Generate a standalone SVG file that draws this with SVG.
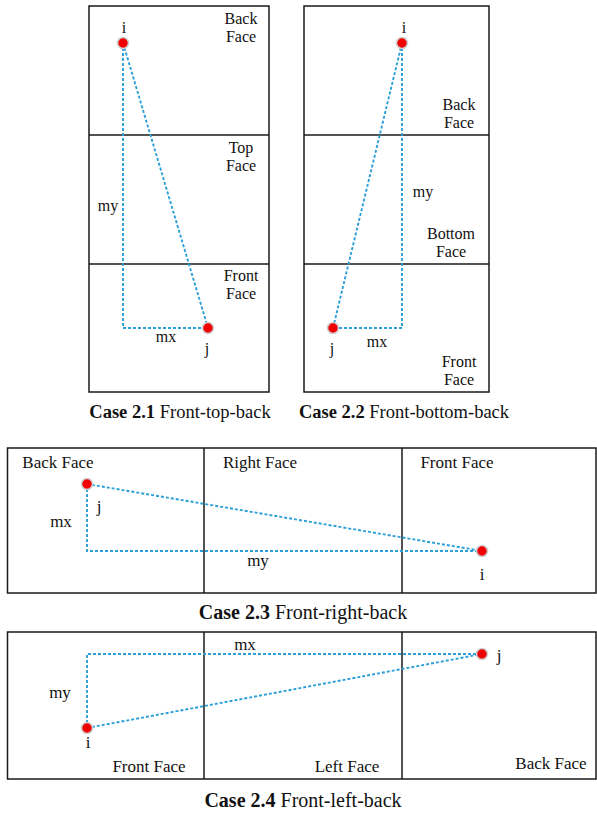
<svg xmlns="http://www.w3.org/2000/svg" width="597" height="814" viewBox="0 0 597 814">
<style>
.box{fill:none;stroke:#1a1a1a;stroke-width:1.5}
.div{stroke:#1a1a1a;stroke-width:1.5}
.dash{fill:none;stroke:#2a9fd8;stroke-width:1.9;stroke-dasharray:3 2}
.pt{fill:#f00000;stroke:#cfcfcf;stroke-width:1.6}
text{font-family:"Liberation Serif","Times New Roman",serif;fill:#111}
.l{font-size:16px;text-anchor:middle}
.l2{font-size:17px;text-anchor:middle}
.cap{font-size:18.5px;text-anchor:middle}
.cap2{font-size:20px;text-anchor:middle}
.b{font-weight:bold}
</style>
<rect width="597" height="814" fill="#fff"/>
<g id="case21">
<rect class="box" x="89" y="6" width="180" height="386"/>
<line class="div" x1="89" y1="135" x2="269" y2="135"/>
<line class="div" x1="89" y1="264" x2="269" y2="264"/>
<text class="l" x="241" y="24">Back</text>
<text class="l" x="241" y="42">Face</text>
<text class="l" x="241" y="153">Top</text>
<text class="l" x="241" y="171">Face</text>
<text class="l" x="241" y="281">Front</text>
<text class="l" x="241" y="299">Face</text>
<text class="l" x="108" y="211">my</text>
<text class="l" x="166" y="342">mx</text>
<text class="l" x="124" y="33">i</text>
<text class="l" x="207" y="354">j</text>
<text class="cap" x="180" y="418"><tspan class="b">Case 2.1</tspan> Front-top-back</text>
</g>
<g id="case22">
<rect class="box" x="304" y="6" width="185" height="386"/>
<line class="div" x1="304" y1="135" x2="489" y2="135"/>
<line class="div" x1="304" y1="264" x2="489" y2="264"/>
<text class="l" x="459" y="110">Back</text>
<text class="l" x="459" y="128">Face</text>
<text class="l" x="451" y="239">Bottom</text>
<text class="l" x="451" y="257">Face</text>
<text class="l" x="459" y="367">Front</text>
<text class="l" x="459" y="385">Face</text>
<text class="l" x="423" y="197">my</text>
<text class="l" x="377" y="347">mx</text>
<text class="l" x="404" y="33">i</text>
<text class="l" x="332" y="354">j</text>
<text class="cap" x="404" y="418"><tspan class="b">Case 2.2</tspan> Front-bottom-back</text>
</g>
<g id="case23">
<rect class="box" x="7.5" y="448" width="588.5" height="145"/>
<line class="div" x1="204" y1="448" x2="204" y2="593"/>
<line class="div" x1="402" y1="448" x2="402" y2="593"/>
<text class="l2" x="58" y="468">Back Face</text>
<text class="l2" x="260" y="468">Right Face</text>
<text class="l2" x="457" y="468">Front Face</text>
<text class="l2" x="99" y="512">j</text>
<text class="l2" x="61" y="527">mx</text>
<text class="l2" x="258" y="566">my</text>
<text class="l2" x="482" y="580">i</text>
<text class="cap2" x="303" y="619"><tspan class="b">Case 2.3</tspan> Front-right-back</text>
</g>
<g id="case24">
<rect class="box" x="7.5" y="632" width="588.5" height="147"/>
<line class="div" x1="204" y1="632" x2="204" y2="779"/>
<line class="div" x1="402" y1="632" x2="402" y2="779"/>
<text class="l2" x="245" y="650">mx</text>
<text class="l2" x="60" y="698">my</text>
<text class="l2" x="88" y="748">i</text>
<text class="l2" x="499" y="661">j</text>
<text class="l2" x="149" y="772">Front Face</text>
<text class="l2" x="347" y="772">Left Face</text>
<text class="l2" x="551" y="769">Back Face</text>
<text class="cap2" x="303" y="807"><tspan class="b">Case 2.4</tspan> Front-left-back</text>
</g>
<g id="connectors">
<polyline class="dash" points="123,43 123,328 208,328"/>
<line class="dash" x1="123" y1="43" x2="208" y2="328"/>
<polyline class="dash" points="402,43 402,328 333,328"/>
<line class="dash" x1="402" y1="43" x2="333" y2="328"/>
<polyline class="dash" points="87,484 87,551 482,551"/>
<line class="dash" x1="87" y1="484" x2="482" y2="551"/>
<polyline class="dash" points="87,728 87,654 482,654"/>
<line class="dash" x1="87" y1="728" x2="482" y2="654"/>
</g>
<g id="points">
<circle class="pt" cx="123" cy="43" r="5.5"/>
<circle class="pt" cx="208" cy="328" r="5.5"/>
<circle class="pt" cx="402" cy="43" r="5.5"/>
<circle class="pt" cx="333" cy="328" r="5.5"/>
<circle class="pt" cx="87" cy="484" r="5.5"/>
<circle class="pt" cx="482" cy="551" r="5.5"/>
<circle class="pt" cx="87" cy="728" r="5.5"/>
<circle class="pt" cx="482" cy="654" r="5.5"/>
</g>
</svg>
